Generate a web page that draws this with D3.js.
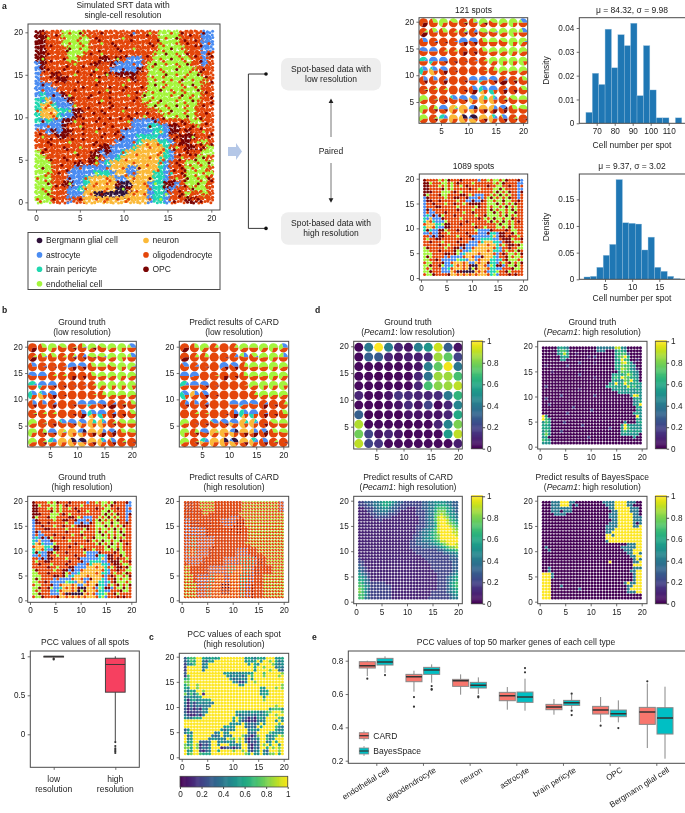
<!DOCTYPE html>
<html><head><meta charset="utf-8">
<style>
html,body{margin:0;padding:0;background:#fff}
svg{display:block;font-family:"Liberation Sans",Arial,sans-serif;filter:blur(.35px)}
text{fill:#222}
</style>
<script src="https://cdn.jsdelivr.net/npm/d3@7"></script>
</head><body><svg id="fig" width="685" height="813"></svg>
<script>
// ---------- cell types ----------
const cellTypes = ["Bergmann glial cell","astrocyte","brain pericyte","endothelial cell","neuron","oligodendrocyte","OPC"];
const typeKeys  = ["b","a","p","e","n","o","c"];
const typeColors = ["#30123b","#4a8cf2","#1fd8b0","#a4f53c","#fbb938","#e4460a","#7a0403"];

// ---------- high resolution ground truth: dominant type per spot (33x33, top row first) ----------
const highTruth = [
"ccooo eeeeo ooooo ooooo oooee eeooo oaa","ccooo eeeee ooooo ooooo oooee eeooo oaa","ccooo eeeee ooooo ooooo oooee eeooo oaa",
"ccooo oeeee ooooo ooooo oooee eeeoo oaa","ccooo oeeeo ooooo ooooo ooeee eeeoo oao","ccooo oeeoo oocco coaaa ooeee eeeeo oao",
"acooo ooooo ocooc aaaaa oeeee eeeeo oao","acooo ooooo ooooa aaaac oeeee eeeee ooo","aoocc ooooo oooco cccco oeeee eeeee eoo",
"aoooc coooo ooooo oooco oeeee eeeee eeo","aaaoo ooooo ooooo ooooo oeeee eeeee eoo","aaaao ooooo ooooo ooooo oeeee eeeee eoo",
"apaaa coooo ooooo ooooo eeeee eeeee eoo","ppnaa acooo ooooo ooooo eeeee eeeee eoo","pnnpa aaooo ooooo ooooo oeeee eeeee ooo",
"pnnnp pacco ooooo ooooo oooee eeeee ooo","pnnnp aacoo ooooo ooooo ooooe eeeee ooo","papaa ccooo ooooo oooaa aaaoo ooooe eoo",
"aaaaa coooo ooooo oooaa appaa ccooo ooo","ooaca ccooo ooooo oaaaa aappa ccoco ooo","ooooc coooo ooooo oaaap pppaa ooccc ooo",
"ooooo ooooo ooooo aaaap nnnpp aocco oeo","ooooo ooooo oocca aaapn nnnnp ooocc ooe","eoooo ooooo ocaca apnnn nnnnp aoooo oee",
"eeooo ooooo ccoaa pnnnn nnnnp aoooo eeo","eeeoo oooco coapn nnnnn nnnpa oooee eee","eeeoo ooaaa aaaan nnaan nnnpa oooee eeo",
"eeeoo oaaaa apppa nnaan nnppa oooee eee","eeeoo oaaap nnnnn aannn nnppa oooee eeo","eeeoo ccaap nnnnn cbbnn nappc caoee eeo",
"eeeoo oaapn nnnnn bbcnn nappc aoooe eeo","eeeoo oaaan nbbbb bbnnn nappa oooeo oeo","eeeoo oaoon nnnnn nnnnn nappa ooocc ooo"];
// minority cells that stand out inside a spot ('.' = none)
const specks = [
".o... .o.c. ..c.. ...a. .e... o.c.. .c.","..e.. o..o. .c... .e... ..o.o .c.o. o..","c.... .o.o. ..e.c .o... .c.o. .o.c. ..o",
"..o.. .c.o. ..... c..e. ..o.. c.o.o ...","..c.. ..... c.e.. ...o. o.o.c .o.c. o.c",".e... c.... .o... e.... ...o. c.o.. o..",
"..... ..e.. c.... ...o. ..c.o .o.co ...","..c.. c.... .e... .c... ...o. .c..o .c.","....o ..e.. c..e. ..... o...c .o.o. c..",
"..... c.... .e... ..e.. ..o.. o.c.o .o.",".c... ..o.. .c... .e... ..c.o ..o.c ..o",".o... ..c.. ...e. .c... ...c. o.o.. c.o",
"...c. .e... c.... ..e.. c.... o.c.o .o.",".a... ..... ..e.. ...c. .o.c. .o..c o..","..o.. ..e.. ....c ..... ..c.o .c.o. .c.",
"o.... .e... ..c.. .e... ...o. c..o. o..","...o. ...c. ..... ..c.. e.... .o.c. ..o",".c... ..e.. .c... ..e.. ..c.. ..c.e ...",
"..o.. ...e. ....c ..... .c.p. ....c e..","..... c.... .e... c.... ...n. ..... .e.",".e... ..o.. ..c.. .c... p.... .c..e ..c",
"..c.. .e... .c... ...o. ...p. ..c.. e..","..... c..e. ..... ...n. .o... .e... .c.",".c... ..e.. c.... .o... ...o. ...c. o..",
"..o.. c.... .e... ..... .o.p. ..e.. .c.","...o. ..c.. .e... ...o. ...o. .c... o.c",".c... ...o. ...o. .o..c ...p. ..c.o ...",
"..o.c ..... .e.p. ...o. .n... p.c.. .o.","o.... .c..o ...o. ...o. .c... .e.c. o.c","..c.. .e... .o.o. ..... o.e.. ..o.. c.o",
".o... .a..o ...o. .e... .o..a ..o.c ...","..c.o ..... o.c.. ...o. o...e ..c.o .o.","o..c. .o.c. .o.o. o.o.. .o.e. ....o c.."];
// 121-spot compositions (top row first); each token = type letter + percent
const lowTruth = [
["o70c30","e30o70","e70o30","e40o60","e5o85c10","a5e20o75","e60o30c10","e40o60","e60o40","e75o25","a35e15o50"],
["e10o55c35","a5e25o70","e30o70","e10o90","a5e10o75c10","a15o75c10","e45o50c5","a5e40o55","e60o40","e80o20","a30e20o50"],
["a30o70","a5o90c5","o95c5","a5o95","a55o25c20","a45o40c15","e30o70","e50o50","e40o60","e75o25","a5e60o35"],
["a45o55","a50o50","e10o90","e10o90","o75c25","o85c15","e30o70","e55o45","e60o40","e70o30","e60o40"],
["a10p40o50","a50p15o35","a50o40c10","o90c10","o95c5","a5o95","e10o90","e65o35","e75o25","e75o25","e80o20"],
["a30p40o30","a30p10n40o20","a40o40c20","o95c5","o100","o100","e5o95","e20o80","e60o40","e55o45","e60o40"],
["a25o60c15","a25o75","a10o70c20","o100","o90c10","a50o50","a50p10o40","a45o40c15","a10o50c40","e5o80c15","e30o70"],
["e5o90c5","e10o90","e10o90","o100","o90c10","a30o40c30","a30p30n20o20","a50p30o20","a10o70c20","o85c15","e35o65"],
["e60o40","e5o90c5","o85c15","a30p10o60","a45o45c10","a40n30o30","p20n60o20","a15p10n55o20","e10o80c10","e40o60","e50o50"],
["e70o30","e20o70c10","a50o40c10","a5e10n55o30","n80o20","a30b20n30o20","n50o30c20","a20n40o15c25","b10a30o40c20","e30o70","e45o55"],
["e60o40","e10o80c10","a20p30n10o40","n70o30","b30n55o15","b40a10n40o10","n55o30c15","a15p15n40o30","a30e5o50c15","e10o85c5","o95c5"]];
const lowCard = [
["o65c35","e25o75","e65o35","e15o85","o100","e15o85","e60o40","e50o50","e65o35","e70o30","a30e30o40"],
["o60c40","e15o85","e20o80","o100","o95c5","a15o85","a25e20o55","a5e30o65","e55o45","e70o30","a25e25o50"],
["a35o65","a10o90","o95c5","o100","a60o25c15","a40o45c15","e20o80","e55o45","e55o45","e70o30","e60o40"],
["a50o50","a55o45","o100","e5o95","o75c25","o90c10","e25o75","e55o45","e55o45","e70o30","e65o35"],
["a15p40o45","a50o50","a45o45c10","o95c5","o100","o100","e5o95","e60o40","e75o25","e70o30","e80o20"],
["a35p45o20","a25n35o40","a35o50c15","o95c5","o100","o100","o100","e15o85","e60o40","e60o40","e60o40"],
["a20o70c10","a25o75","a10o75c15","o100","o100","a50o50","a55p5o40","a45o55","a10o65c25","o90c10","e15o85"],
["o100","e10o90","e5o95","o100","o95c5","a25o50c25","a25p40n15o20","a50p25o25","a5o75c20","o90c10","e30o70"],
["e60o40","o95c5","o90c10","a35p5o60","a40o50c10","a45n20o35","p15n65o20","a10p10n55o25","o85c15","e40o60","e50o50"],
["e75o25","e20o70c10","a45o50c5","e10n55o35","n80o20","a25b20n30o25","n50o30c20","a25n30o20c25","b10a25o45c20","e30o70","e45o55"],
["e60o40","e5o85c10","a20p25n15o40","n70o30","b25n55o20","b35a10n40o15","n55o30c15","a15p20n35o30","a30o55c15","e10o85c5","o95c5"]];
// CARD high resolution: second type mixed into each oligodendrocyte-led spot
const cardHighSecond = [
"cccoo eeeee ooooo ooooe eeeee eeeee eaa","cccoo eeeee ooooo ooooe eeeee eeeee eaa","cccoo eeeee ooooo ooooe eeeee eeeee eaa",
"cccoo oeeee ooooo ooooe eeeee eeeee eaa","ccooo oeeoo ooooo oooee eeeee eeeee eee","ccooo oooco ooooo aaace eeeee eeeee eee",
"aaccc oooco ooaaa aaccc eeeee eeeee eee","aaccc oooco ooaaa aaccc eeeee eeeee eee","aaccc ooooo oooaa accco eeeee eeeee eee",
"aaaaa aacoo ooooo cocco oeeee eeeee eee","aaaaa aacoo ooooo oocco oeeee eeeee eee","aaaaa aacoo ooooo ooooo oeeee eeeee eee",
"aappa aaaaa ooooo ooooo oeeee eeeee eee","aappa aaaaa ooooo ooooo oeeee eeeee eee","aappa aaaaa ooooo ooooo eeeee eeeee eee",
"aappa aaaac ooooo ooooo ooeee eeeee eee","apnpa aaaco ooooo ooaaa aoooe eeeee eee","apnpa aaaco ooooo ooaaa aoooe eeeee eee",
"apnpa aaaco ooooo ooaaa aaoco oeeee eee","aaaaa acooo oooaa aaapp pppac coeee eee","aaaaa acooo oooaa aaapp pppac coeee eee",
"oaaaa ooooo oooaa aaapp pppac coeee eee","eeooo oocaa aaaap ppnnp ppacc ooooe eee","eeooo oocaa aaaap ppnnp ppacc ooooe eee",
"eeooo oocaa aaaap pnnnp ppacc ooooe eee","eeeoa aaapp nnnaa nnnpp paaoo oeeee eee","eeeoa aaapp nnnaa nnnpp paaoo oeeee eee",
"eeeoa aaapp nnnaa nnnpp paaoo oeeee eee","eeeea aappn nnbbb nnnpp aacoo oeeee eee","eeeea aappn nnbbb nnnpp aacoo oeeee eee",
"eeeea aappn nnbbb nnnpp aacoo oeeee eee","eeeea aappn nnbbb nnnpp aacoo oeeee eee","eeeea aappn nnnnn nnnpp aacoo oeeee eee"];

// ---------- cell number histograms ----------
const hist121Start = 64, hist121Bin = 3.55;
const hist121 = [0.0046,0.021,0.0163,0.0395,0.0233,0.0372,0.0326,0.042,0.0116,0.0326,0.014,0.0023,0.0023,0,0.0023];
const hist1089Start = 1.13, hist1089Bin = 1.18;
const hist1089 = [0.0044,0.0056,0.0225,0.045,0.0655,0.187,0.106,0.105,0.1036,0.055,0.079,0.0225,0.015,0.0056,0.0012];

// ---------- Pecam1 expression ----------
const pecamLow = [
[.02,.4,1,.42,.1,.05,.42,.52,.92,.3,.05],[.02,.3,.28,.1,.05,.08,.08,.12,.85,.75,.2],[.02,.02,.02,.02,.02,.03,.05,.42,.75,.98,.4],
[.02,.02,.01,.01,.02,.02,.1,.38,.85,.85,.7],[.02,.02,.02,.02,.02,.02,.1,.7,.82,.85,.9],[.1,.02,.02,.05,.15,.12,.1,.1,.12,.4,.65],
[.02,.02,.01,.02,.05,.12,.05,.2,.02,.1,.45],[.3,.01,.01,.02,.01,.05,.05,.05,.05,.1,.6],[.88,.02,.02,.02,.02,.01,.02,.02,.1,.45,.8],
[.78,.2,.05,.1,.05,.01,.02,.02,.02,.55,.9],[.9,.2,.15,.02,.02,.02,.02,.02,.02,.02,.08]];
// one digit per spot: value x 10, a = 1
const pecamHigh = [
"00000 56540 00000 00044 44449 95400 000","00000 57750 00000 00044 40005 76500 000","00000 56960 01000 00000 00006 67720 000",
"00000 05650 00000 10200 00005 78a60 000","00000 05500 00000 00000 00005 6a760 010","00000 00000 00200 00100 00006 59a75 100",
"01000 00020 00000 00000 00006 68775 500","00000 00000 00000 00000 00005 69875 410","00010 00000 00000 00000 00000 58776 540",
"00000 00000 00200 00000 00056 66797 550","00000 00000 00000 00100 00067 6a876 650","00000 00000 00000 00000 00065 5587a 650",
"00000 00000 00000 00000 0055a 56a76 665","02000 00000 00000 00000 05666 56596 755","00000 00000 00100 00000 00055 65565 565",
"00000 00000 00000 00000 00000 55555 555","00000 02000 00000 00200 00000 00005 a95","02000 00000 00000 00000 00000 00000 565",
"00000 00000 00000 00000 00000 00000 456","00200 00000 00000 00000 00000 00000 55a","00000 00000 20000 00000 00000 00000 065",
"00000 00000 00000 02000 00000 00000 055","00000 00020 00000 00000 00000 00000 565","a5000 00000 00000 00000 00000 00000 0a5",
"a7500 00000 00000 00000 00000 00000 065","57600 00200 00000 00000 00000 00500 056","66500 00000 00020 00000 00000 05a65 555",
"66600 00000 00000 00000 00200 05a75 555","57500 02000 00000 00000 00000 05756 565","68500 00000 00000 00000 00000 05555 550",
"56000 00000 00000 20000 00000 00000 500","76500 00000 00000 00000 00000 00000 000","55500 00000 00000 00000 00000 00000 000"];
const pecamCard = [
"22333 44566 65433 22222 23344 55554 433","22233 44566 54332 22222 23344 56665 433","11222 34455 43322 21112 23344 67776 543",
"11122 33444 33221 11112 22344 68886 543","11112 23333 22211 11112 22344 78987 554","11111 22222 21111 11111 22344 79a98 654",
"11111 11211 11111 11111 22344 79aa9 765","11111 11111 11111 11111 22344 69aa9 876","11111 11111 11111 11112 22344 69aaa 987",
"11111 11111 11111 11112 23445 79aaa a98","11111 11111 11111 11112 34456 79aaa a99","11111 11111 11111 11122 34456 78aaa aa9",
"11111 11111 11111 11123 34556 78aaa aaa","11111 11111 11111 11223 34445 6799a aaa","11111 11111 11111 11223 33344 56789 aa9",
"11111 11111 11111 11222 23333 34567 889","11111 11111 11111 11122 22222 23345 667","11111 11111 11111 11112 22222 22233 445",
"11111 11111 11111 11111 12222 22222 334","21111 11111 11111 11111 11222 22222 333","22111 11111 11111 11111 11122 22222 233",
"32111 11111 11111 11111 11112 22222 233","33211 11111 11111 11111 11112 22222 233","43211 11111 11111 11111 11111 22222 234",
"54321 11111 11111 11111 11111 12222 345","65421 11111 11111 11111 11111 12223 456","66431 11111 11111 11111 11111 12223 456",
"76432 22221 11111 11111 11111 12223 567","77542 22222 21111 11111 11111 12223 567","87532 22222 21111 11111 11111 12223 456",
"87532 22222 21111 11111 11112 22223 456","77532 22222 21111 11111 11112 22222 345","77432 22222 21111 11111 11122 22222 344"];
const pecamBayes = [
"00044 4aaa4 40000 00000 4444a aaa44 400","00044 4aaa4 04000 00000 0444a aaa44 000","00044 44444 00000 00000 0044a aaaa4 440",
"00044 40444 00000 00000 00044 aaaa4 440","00004 44400 00000 00000 00444 aaaaa 440","00000 00000 00000 00000 00444 aaaaa 444",
"00000 00000 00000 00000 00044 aaaaa 444","00000 00000 00000 00000 00444 aaaaa 404","00000 00000 00000 00000 04444 aaaaa 44a",
"00000 00000 00000 00000 0444a aaaaa aaa","00000 00000 00000 00000 044aa aaaaa aaa","00000 00000 00000 00000 0aa4a aaaaa aaa",
"00000 00000 00000 00000 0aaaa aaaaa aaa","00000 00000 00000 00000 04aaa aaaaa aaa","00000 00000 00000 00000 00000 00044 4aa",
"04000 00000 00000 00000 00000 04444 4aa","00400 00000 00000 00000 00000 00444 aaa","00000 00000 00000 00000 00000 00044 aa4",
"00000 00000 00000 00000 00000 00004 4aa","00000 00000 00000 00000 00000 00000 4a4","00000 00000 00000 00000 00a00 00000 44a",
"00000 00000 00000 00000 00000 00000 aaa","00400 00000 00000 00000 00000 00000 444","00400 00000 00000 00000 00000 00004 4aa",
"aaa40 00000 00000 00000 00000 00000 4aa","aaa40 00000 00000 00000 00000 00000 4aa","aaa00 00000 00000 00000 00000 00000 4aa",
"aaa00 00000 00000 00000 00000 004a4 4aa","aaa00 04000 00000 00000 00000 00044 aaa","aaa00 00000 00400 00000 00000 0004a aaa",
"aaa00 00000 00000 00000 00000 00044 4aa","aaa00 00000 00000 00000 00000 00000 000","aaa00 00000 00000 00000 00000 00000 000"];
// PCC of each spot (same encoding)
const pccSpots = [
"3677a a6556 56aaa aaaaa 56546 65aaa 556","3576a a4365 aaaaa aaaaa 5656a 5aa8a 645","2557a a45aa aaaaa aaaaa a5a65 aaaa8 545",
"2aaaa a45aa aaaaa aaaaa aaa6a a8aaa 454","2aaaa a4aaa aaaaa aaaaa aaa5a aaa8a a43","3aaaa aaaaa aaa56 54545 556aa a7aaa aa8",
"27aaa aaaaa aaaa5 45453 5a7aa a8aaa a8a","67aaa aaaaa aaaaa 53445 4a5aa aaaaa aaa","88aaa aaaaa aaaaa a5422 5aa8a aaaaa aaa",
"68aa8 aaaaa aaaaa aaa55 aaaaa aaaaa aa8","65aa8 aaaaa aaaaa aaaaa aaaaa 65aaa 8a8","5465a a8aaa aaaaa aaaaa aaaaa 556aa aaa",
"84747 a1aaa aaaaa aaaaa aaaaa 566aa aaa","44545 6aaaa aaaaa aaaaa aaaaa a5aaa aaa","51564 5556a aaaaa aaaaa aaaaa a8aaa aaa",
"41424 54544 aaaaa aaaaa aaaaa aaaaa aaa","41424 3444a aaaaa aaaaa aaaaa aaaaa 8aa","31313 154aa aaaaa aaaaa aaaaa aaa57 775",
"31222 345aa aaaaa aa565 54655 4578a aa8","42113 14aaa aaaaa aa534 44435 456aa 8aa","54466 6aaaa aaaaa a6a64 31315 64aaa a75",
"aaaaa aaaaa aaaaa a5a53 21214 45aaa 5a5","aaaaa aaaaa aaaaa 5555a 53435 a5aaa a7a","aaaaa aaaaa aaa56 55aaa 4343a 6aaaa 754",
"35aaa aaaaa aa535 45aaa a4555 aaaaa 645","464aa aaaaa 45a55 aaaaa a343a aaa75 555","a36aa aaaa4 34a45 4aaa8 43138 aa545 7a8",
"a45aa aaa45 5454a 87a8a 31345 aa745 aaa","a56aa 3334a a4545 54a8a 41324 aa45a 6aa","857a8 1324a a5aaa 5545a a3134 a8a6a a5a",
"886a8 2435a aa123 3134a a3143 aa6a8 a8a","a56aa 2134a a6aaa a8aa8 a4245 a43aa a8a","a68aa 7666a aaaaa aaaaa 86a55 a5488 a6a"];

// ---------- box plots ----------
const pccCategories = ["low","high"];
const pccBoxes = [
 {lo:.985,q1:.99,med:1,q3:1,hi:1,fliers:[.96,.97]},
 {lo:-.09,q1:.54,med:.895,q3:.975,hi:1,fliers:[-.1,-.15,-.18,-.2,-.22,-.24]}];
const markerTypes = ["endothelial cell","oligodendrocyte","neuron","astrocyte","brain pericyte","OPC","Bergmann glial cell"];
const methods = ["CARD","BayesSpace"];
const methodColors = ["#f8766d","#00bfc4"];
const cardBoxes = [
 {lo:.708,q1:.756,med:.77,q3:.794,hi:.8,fliers:[.692]},
 {lo:.614,q1:.674,med:.704,q3:.718,hi:.74,fliers:[.582,.524]},
 {lo:.596,q1:.646,med:.68,q3:.688,hi:.718,fliers:[]},
 {lo:.506,q1:.56,med:.59,q3:.61,hi:.642,fliers:[]},
 {lo:.476,q1:.506,med:.522,q3:.538,hi:.57,fliers:[]},
 {lo:.432,q1:.48,med:.504,q3:.526,hi:.582,fliers:[.41]},
 {lo:.276,q1:.418,med:.492,q3:.52,hi:.664,fliers:[.676]}];
const bayesBoxes = [
 {lo:.728,q1:.774,med:.792,q3:.814,hi:.826,fliers:[.714]},
 {lo:.668,q1:.718,med:.744,q3:.76,hi:.778,fliers:[.648,.63,.626]},
 {lo:.6,q1:.636,med:.652,q3:.67,hi:.7,fliers:[.586,.58]},
 {lo:.5,q1:.55,med:.582,q3:.612,hi:.692,fliers:[.756,.73]},
 {lo:.512,q1:.532,med:.548,q3:.562,hi:.596,fliers:[.602,.5,.474]},
 {lo:.43,q1:.464,med:.482,q3:.504,hi:.562,fliers:[.396]},
 {lo:.212,q1:.36,med:.456,q3:.518,hi:.644,fliers:[]}];

// ---------- helpers ----------
const svg = d3.select("#fig");
const FS = 8.2, TS = 8.5, FRAME = "#4a4a4a";
const rows = g => g.map(s => s.replace(/ /g,"").split(""));
const digit = ch => ch === "a" ? 1 : +ch / 10;
const parseMix = s => { const m = {}; (s.match(/[a-z]\d+/g) || []).forEach(t => m[t[0]] = +t.slice(1));
  return typeKeys.map((k,i) => ({i, v: m[k] || 0})); };
const colorOf = k => typeColors[typeKeys.indexOf(k)];
const vir = d3.interpolateViridis;

function text(x,y,str,opt={}){
  return svg.append("text").attr("x",x).attr("y",y).attr("text-anchor",opt.anchor||"middle")
    .attr("font-size",opt.size||TS).attr("font-weight",opt.bold?"bold":null).text(str);
}
function title(cx,y,lines){ lines.forEach((l,i)=>{
  const t = svg.append("text").attr("x",cx).attr("y",y+i*10.4).attr("text-anchor","middle").attr("font-size",TS);
  if(Array.isArray(l)) l.forEach(p=>t.append("tspan").attr("font-style",p.i?"italic":null).text(p.t));
  else t.text(l);
});}
// Builds a framed panel; calibration = two domain/pixel anchors on each axis.
function panel(box, xa, ya, xTicks, yTicks){
  const x = d3.scaleLinear().domain([xa[0],xa[2]]).range([xa[1],xa[3]]);
  const y = d3.scaleLinear().domain([ya[0],ya[2]]).range([ya[1],ya[3]]);
  const g = svg.append("g");
  const clipId = "c"+Math.round(box[0])+"_"+Math.round(box[2]);
  svg.append("clipPath").attr("id",clipId).append("rect").attr("x",box[0]).attr("y",box[2]).attr("width",box[1]-box[0]).attr("height",box[3]-box[2]);
  const marks = g.append("g").attr("clip-path",`url(#${clipId})`);
  const ax = d3.axisBottom(x).tickValues(xTicks).tickSize(2.6).tickPadding(2.4);
  const ay = d3.axisLeft(y).tickValues(yTicks).tickSize(2.6).tickPadding(2.4);
  const gx = g.append("g").attr("transform",`translate(0,${box[3]})`).call(ax);
  const gy = g.append("g").attr("transform",`translate(${box[0]},0)`).call(ay);
  [gx,gy].forEach(a=>{a.select(".domain").remove();a.selectAll("text").attr("font-size",FS);a.selectAll("line").attr("stroke",FRAME).attr("stroke-width",.8);a.attr("font-family",null);});
  g.append("rect").attr("x",box[0]).attr("y",box[2]).attr("width",box[1]-box[0]).attr("height",box[3]-box[2])
    .attr("fill","none").attr("stroke",FRAME).attr("stroke-width",1);
  return {x,y,marks,g,gx,gy};
}
const fmtNum = d3.format("~g");
const spotX = d3.scaleLinear().domain([0,32]).range([.7,19.75]);
const spotY = d3.scaleLinear().domain([0,32]).range([19.7,.72]);
const lowX  = d3.scaleLinear().domain([0,10]).range([1.78,20]);
const lowY  = d3.scaleLinear().domain([0,10]).range([19.8,1.85]);
const pieGen = d3.pie().sort(null).value(d=>d.v).startAngle(Math.PI/2).endAngle(Math.PI/2-2*Math.PI);

function drawPies(p, grid, r, xs, ys){
  grid.forEach((row,ri)=>row.forEach((mix,ci)=>{
    const arc = d3.arc().innerRadius(0).outerRadius(r);
    p.marks.append("g").attr("transform",`translate(${p.x(xs(ci))},${p.y(ys(ri))})`)
      .selectAll("path").data(pieGen(parseMix(mix).filter(d=>d.v>0))).join("path")
      .attr("d",arc).attr("fill",d=>typeColors[d.data.i]);
  }));
}
const truthRows = rows(highTruth), speckRows = rows(specks);
function drawTruthSpots(p, r){
  truthRows.forEach((row,ri)=>row.forEach((k,ci)=>{
    const s = (speckRows[ri]||[])[ci];
    p.marks.append("circle").attr("cx",p.x(spotX(ci))).attr("cy",p.y(spotY(ri))).attr("r",r)
      .attr("fill",colorOf(s && s!=="." ? s : k));
  }));
}
function drawValueSpots(p, grid, r){
  rows(grid).forEach((row,ri)=>row.forEach((ch,ci)=>{
    p.marks.append("circle").attr("cx",p.x(spotX(ci))).attr("cy",p.y(spotY(ri))).attr("r",r).attr("fill",vir(digit(ch)));
  }));
}
function vColorbar(x0,x1,y0,y1,labelTicks){
  const s = d3.scaleLinear().domain([0,1]).range([y1,y0]);
  d3.range(0,1.0001,.01).forEach(v=>svg.append("rect").attr("x",x0).attr("y",s(v)-(y1-y0)/100).attr("width",x1-x0).attr("height",(y1-y0)/100+.4).attr("fill",vir(v)));
  svg.append("rect").attr("x",x0).attr("y",y0).attr("width",x1-x0).attr("height",y1-y0).attr("fill","none").attr("stroke",FRAME).attr("stroke-width",.8);
  const a = svg.append("g").attr("transform",`translate(${x1},0)`).call(d3.axisRight(s).tickValues(labelTicks).tickFormat(fmtNum).tickSize(2.4).tickPadding(2));
  a.select(".domain").remove(); a.selectAll("text").attr("font-size",FS); a.attr("font-family",null); a.selectAll("line").attr("stroke",FRAME);
}
function histogram(p, values, start, bin){
  p.marks.selectAll("rect.bar").data(values).join("rect").attr("class","bar")
    .attr("x",(d,i)=>p.x(start+i*bin)).attr("width",(d,i)=>p.x(start+(i+1)*bin)-p.x(start+i*bin))
    .attr("y",d=>p.y(d)).attr("height",d=>p.y(0)-p.y(d)).attr("fill","#1f77b4")
    .attr("stroke","#9cc4e0").attr("stroke-width",.5).attr("stroke-opacity",.7);
}
function drawBox(layer, cx, w, b, y, fill, stroke, medW, whiskW){
  layer.append("line").attr("x1",cx).attr("x2",cx).attr("y1",y(b.lo)).attr("y2",y(b.hi)).attr("stroke",stroke).attr("stroke-width",whiskW);
  layer.append("rect").attr("x",cx-w/2).attr("width",w).attr("y",y(b.q3)).attr("height",y(b.q1)-y(b.q3)).attr("fill",fill).attr("stroke",stroke).attr("stroke-width",1);
  layer.append("line").attr("x1",cx-w/2).attr("x2",cx+w/2).attr("y1",y(b.med)).attr("y2",y(b.med)).attr("stroke","#333").attr("stroke-width",medW);
  b.fliers.forEach(f=>layer.append("circle").attr("cx",cx).attr("cy",y(f)).attr("r",1.1).attr("fill","#333"));
}

// ---------- panel letters ----------
[["a",2,9],["b",2,313],["d",315,313],["c",149,640],["e",312,640]].forEach(d=>text(d[1],d[2],d[0],{anchor:"start",bold:true,size:8.6}));

// ---------- a: single-cell scatter ----------
title(123,8,["Simulated SRT data with","single-cell resolution"]);
const pA = panel([28,220,24,210],[0,36,20,211.3],[0,202.3,20,32.3],[0,5,10,15,20],[0,5,10,15,20]);
const cellX = d3.scaleLinear().domain([0,32]).range([.3,19.85]);
const cellY = d3.scaleLinear().domain([0,32]).range([19.8,.25]);
// dots of one spot are laid out from this small set of arrangements
const cellLayouts = [
 [[-.26,-.14],[.1,-.3],[.3,.02],[-.06,.12],[-.3,.28],[.2,.3]],
 [[-.3,.06],[-.05,-.32],[.28,-.2],[.12,.14],[-.16,.32],[.34,.32]],
 [[-.12,-.24],[.3,-.28],[-.32,-.02],[.05,.05],[.32,.2],[-.1,.34]],
 [[-.32,-.3],[.04,-.16],[.34,.06],[-.2,.16],[.12,.34],[-.36,.34]],
 [[-.04,-.34],[.26,-.12],[-.28,-.14],[-.02,.16],[.3,.32],[-.3,.26]]];
truthRows.forEach((row,ri)=>row.forEach((k,ci)=>{
  cellLayouts[(ci*2+ri*3)%5].forEach(o=>{
    pA.marks.append("circle").attr("cx",pA.x(cellX(ci)+o[0])).attr("cy",pA.y(cellY(ri)+o[1])).attr("r",1.5).attr("fill",colorOf(k));
  });
}));
truthRows.forEach((row,ri)=>row.forEach((k,ci)=>{
  const s=(speckRows[ri]||[])[ci], s2=(speckRows[(ri+16)%33]||[])[ci];
  if(s&&s!=="."){pA.marks.append("circle").attr("cx",pA.x(cellX(ci)-.12)).attr("cy",pA.y(cellY(ri)+.1)).attr("r",1.5).attr("fill",colorOf(s));}
  if(s2&&s2!=="."&&(k==="e"||k==="o"||k==="n")){
    const c2 = k==="e"?"o":(k==="n"?"o":"c");
    pA.marks.append("circle").attr("cx",pA.x(cellX(ci)+.2)).attr("cy",pA.y(cellY(ri)-.16)).attr("r",1.5).attr("fill",colorOf(c2));
  }
}));
// legend
svg.append("rect").attr("x",28).attr("y",232.5).attr("width",192).attr("height",57).attr("fill","#fff").attr("stroke",FRAME).attr("stroke-width",1);
const legendOrder = [0,1,2,3,4,5,6];
legendOrder.forEach((t,i)=>{
  const col = i<4?0:1, rw = i<4?i:i-4;
  const lx = col? 146:39.5, ly = 240.5+rw*14.4;
  svg.append("circle").attr("cx",lx).attr("cy",ly).attr("r",2.8).attr("fill",typeColors[t]);
  text(lx+6.5,ly+2.9,cellTypes[t],{anchor:"start"});
});

// ---------- a: flow diagram ----------
svg.append("path").attr("d","M228,147H236V143L242,151.5L236,160V156H228Z").attr("fill","#b4c7e7");
svg.append("path").attr("d","M266,74H248.4V228.4H266").attr("fill","none").attr("stroke","#222").attr("stroke-width",.9);
[74,228.4].forEach(y=>svg.append("circle").attr("cx",266).attr("cy",y).attr("r",1.8).attr("fill","#111"));
[58,212.3].forEach(y=>svg.append("rect").attr("x",281).attr("y",y).attr("width",100).attr("height",32.4).attr("rx",7).attr("fill","#eee"));
text(331,71.5,"Spot-based data with"); text(331,81.8,"low resolution");
text(331,226,"Spot-based data with"); text(331,236.3,"high resolution");
text(331,153.8,"Paired");
svg.append("line").attr("x1",331).attr("x2",331).attr("y1",137).attr("y2",102).attr("stroke","#777").attr("stroke-width",1);
svg.append("line").attr("x1",331).attr("x2",331).attr("y1",163).attr("y2",199).attr("stroke","#777").attr("stroke-width",1);
svg.append("path").attr("d","M331,98.5L328.6,103H333.4Z").attr("fill","#222");
svg.append("path").attr("d","M331,202.8L328.6,198.3H333.4Z").attr("fill","#222");

// ---------- a: spots and histograms ----------
const t5 = [5,10,15,20], t0 = [0,5,10,15,20];
text(473.5,12.7,"121 spots");
const p121 = panel([419,527.7,17.7,123.3],[5,441,20,523],[5,102,20,21.7],t5,t5);
drawPies(p121,lowTruth,4.5,lowX,lowY);
text(473.5,169,"1089 spots");
const p1089 = panel([419.3,527.7,174,280],[0,421,20,523],[0,278,20,178.7],t0,t0);
drawTruthSpots(p1089,1.5);

const h1 = panel([579.3,692,17.7,123.3],[70,596.7,110,668.7],[0,123.3,.04,28],[70,80,90,100,110],[0,.01,.02,.03,.04]);
h1.gy.selectAll("text").text(d=>d===0?"0":d.toFixed(2));
histogram(h1,hist121,hist121Start,hist121Bin);
text(632,12.7,"\u03bc = 84.32, \u03c3 = 9.98");
text(632,147.8,"Cell number per spot");
svg.append("text").attr("transform","translate(548.5,70.5) rotate(-90)").attr("text-anchor","middle").attr("font-size",TS).text("Density");

const h2 = panel([579.3,692,174,279.3],[5,605,15,659.3],[0,279.3,.15,199.3],[5,10,15],[0,.05,.1,.15]);
h2.gy.selectAll("text").text(d=>d===0?"0":d.toFixed(2));
histogram(h2,hist1089,hist1089Start,hist1089Bin);
text(632,169,"\u03bc = 9.37, \u03c3 = 3.02");
text(632,301,"Cell number per spot");
svg.append("text").attr("transform","translate(548.5,227) rotate(-90)").attr("text-anchor","middle").attr("font-size",TS).text("Density");

// ---------- b ----------
title(82,324.5,["Ground truth","(low resolution)"]);
const pb1 = panel([27.7,136.3,341.3,447],[5,50,20,131.7],[5,425.7,20,346.7],t5,t5);
drawPies(pb1,lowTruth,4.5,lowX,lowY);
title(234,324.5,["Predict results of CARD","(low resolution)"]);
const pb2 = panel([179.3,288.7,341.3,447],[5,202,20,283.3],[5,425.7,20,346.7],t5,t5);
drawPies(pb2,lowCard,4.6,lowX,lowY);
title(82,479.5,["Ground truth","(high resolution)"]);
const pb3 = panel([27.7,136.3,496.3,602.3],[0,30,20,131.3],[0,600.3,20,501],t0,t0);
drawTruthSpots(pb3,1.5);
title(234,479.5,["Predict results of CARD","(high resolution)"]);
const pb4 = panel([179.3,288.7,496.3,602.3],[0,181.7,20,283.7],[0,600.3,20,501],t0,t0);
const cardHighShare = 26; // percent of each spot given to the second type
rows(cardHighSecond).forEach((row,ri)=>row.forEach((k,ci)=>{
  const mix = k==="o" ? "o90c10" : `${k}${k==="e"?36:cardHighShare}o${100-(k==="e"?36:cardHighShare)}`;
  pb4.marks.append("g").attr("transform",`translate(${pb4.x(spotX(ci))},${pb4.y(spotY(ri))})`)
    .selectAll("path").data(pieGen(parseMix(mix).filter(d=>d.v>0))).join("path")
    .attr("d",d3.arc().innerRadius(0).outerRadius(1.5)).attr("fill",d=>typeColors[d.data.i]);
}));

// ---------- d ----------
const cbTicks=[0,.2,.4,.6,.8,1];
const italic = (a,b,c)=>[{t:a},{t:b,i:true},{t:c}];
title(408,324.5,["Ground truth",italic("(","Pecam1",": low resolution)")]);
const pd1 = panel([353.7,462.3,341.3,449],[5,376.3,20,458],[5,426.7,20,346.3],t5,t5);
pecamLow.forEach((row,ri)=>row.forEach((v,ci)=>pd1.marks.append("circle").attr("cx",pd1.x(lowX(ci))).attr("cy",pd1.y(lowY(ri))).attr("r",4.5).attr("fill",vir(v))));
vColorbar(471.3,482.7,341.3,448.7,cbTicks);
title(592.3,324.5,["Ground truth",italic("(","Pecam1",": high resolution)")]);
const pd2 = panel([537.7,647,341.3,449],[0,539.7,20,641.7],[0,446.7,20,346.3],t0,t0);
drawValueSpots(pd2,pecamHigh,1.5);
vColorbar(655.3,666.7,341.3,448.7,cbTicks);
title(408,479.5,["Predict results of CARD",italic("(","Pecam1",": high resolution)")]);
const pd3 = panel([353.7,462.3,496.3,603.7],[0,356,20,458],[0,601.7,20,500.7],t0,t0);
drawValueSpots(pd3,pecamCard,1.5);
vColorbar(471.3,482.7,496.3,603.7,cbTicks);
title(592.3,479.5,["Predict results of BayesSpace",italic("(","Pecam1",": high resolution)")]);
const pd4 = panel([537.7,647,496.3,603.7],[0,539.7,20,641.7],[0,601.7,20,500.7],t0,t0);
drawValueSpots(pd4,pecamBayes,1.5);
vColorbar(655.3,666.7,496.3,603.7,cbTicks);

// ---------- PCC of all spots ----------
text(85,644.5,"PCC values of all spots");
const pp = panel([30.3,139.3,651,767.3],[0,53.7,1,115.3],[0,734.3,1,656.3],[0,1],[0,.5,1]);
pp.gx.selectAll("text").remove();
pp.gy.selectAll("text").text(d=>fmtNum(d));
pccBoxes.forEach((b,i)=>drawBox(pp.marks,pp.x(i),19.7,b,pp.y,"#f64060","#444",.9,1));
text(53.7,782,"low");  text(53.7,792.2,"resolution");
text(115.3,782,"high"); text(115.3,792.2,"resolution");

// ---------- c ----------
title(234,636.5,["PCC values of each spot","(high resolution)"]);
const pc = panel([179.3,288.7,653.3,759.3],[0,181.7,20,283.7],[0,757.3,20,656.7],t0,t0);
drawValueSpots(pc,pccSpots,1.5);
const hcb = d3.scaleLinear().domain([0,1]).range([180,287.7]);
d3.range(0,1,.01).forEach(v=>svg.append("rect").attr("x",hcb(v)).attr("y",776.3).attr("width",1.6).attr("height",10.7).attr("fill",vir(v)));
svg.append("rect").attr("x",180).attr("y",776.3).attr("width",107.7).attr("height",10.7).attr("fill","none").attr("stroke",FRAME).attr("stroke-width",.8);
const hcbA = svg.append("g").attr("transform","translate(0,787)").call(d3.axisBottom(hcb).tickValues(cbTicks).tickFormat(fmtNum).tickSize(2).tickPadding(2));
hcbA.select(".domain").remove(); hcbA.selectAll("text").attr("font-size",FS); hcbA.attr("font-family",null); hcbA.selectAll("line").attr("stroke",FRAME);

// ---------- e ----------
text(516,644.5,"PCC values of top 50 marker genes of each cell type");
const pe = panel([348.3,695,651,763.3],[0,376.3,6,656.3],[.8,660.7,.2,760.7],[0,1,2,3,4,5,6],[.2,.4,.6,.8]);
pe.gy.selectAll("text").text(d=>d.toFixed(1));
pe.gx.selectAll("text").remove();
[[cardBoxes,-9,0],[bayesBoxes,8.7,1]].forEach(([set,dx,m])=>set.forEach((b,i)=>
  drawBox(pe.marks,pe.x(i)+dx,16,b,pe.y,methodColors[m],"#888",1.5,1)));
markerTypes.forEach((n,i)=>{
  svg.append("text").attr("transform",`translate(${pe.x(i)+13.5},771.5) rotate(-32)`).attr("text-anchor","end").attr("font-size",8.1).text(n);
});
methods.forEach((n,i)=>{
  const ly = 735.7+i*15.3;
  svg.append("line").attr("x1",364).attr("x2",364).attr("y1",ly-5).attr("y2",ly+5).attr("stroke","#888").attr("stroke-width",.8);
  svg.append("rect").attr("x",359.3).attr("y",ly-3).attr("width",9.4).attr("height",6).attr("fill",methodColors[i]).attr("stroke","#888").attr("stroke-width",.8);
  svg.append("line").attr("x1",359.3).attr("x2",368.7).attr("y1",ly).attr("y2",ly).attr("stroke","#333").attr("stroke-width",1.2);
  text(373.3,ly+2.8,n,{anchor:"start"});
});
</script></body></html>
